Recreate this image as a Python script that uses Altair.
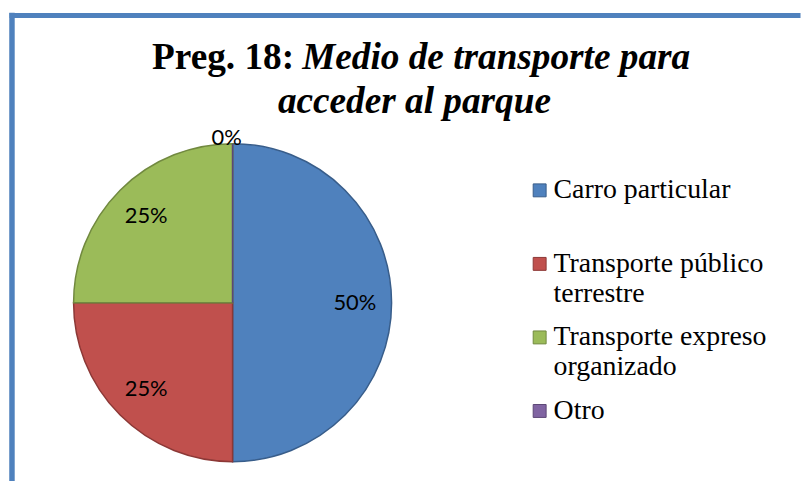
import altair as alt
import pandas as pd

# ---- data ----
categorias = ["Carro particular", "Transporte público terrestre",
              "Transporte expreso organizado", "Otro"]
valores = [50, 25, 25, 0]
colores = ["#4F81BD", "#C0504D", "#9BBB59", "#8064A2"]
bordes = ["#385D8A", "#8C3836", "#71893F", "#5C4776"]
titulo_1a = "Preg. 18:"
titulo_1b = "Medio de transporte para"
titulo_2 = "acceder al parque"

df = pd.DataFrame({"cat": categorias, "v": valores, "idx": list(range(len(valores)))})
one = alt.Data(values=[{"k": 1}])

CX, CY = 225, 295   # pie centre inside the view
R = 160

LABEL_EXPR = ("length(split(datum.label,' ')) > 2 ? "
              "[join(slice(split(datum.label,' '),0,2),' '), "
              "join(slice(split(datum.label,' '),2),' ')] : [datum.label, '']")

def legend():
    return alt.Legend(
        title=None, orient="none", legendX=520, legendY=168,
        symbolType="square", symbolSize=169, symbolStrokeWidth=1,
        labelFont="Liberation Serif", labelFontSize=28,
        labelColor="#000000", labelLimit=400, labelOffset=0,
        labelBaseline="middle", rowPadding=16, padding=0,
        labelExpr=LABEL_EXPR,
    )

color = alt.Color("cat:N", scale=alt.Scale(domain=categorias, range=colores), legend=legend())
stroke = alt.Stroke("cat:N", scale=alt.Scale(domain=categorias, range=bordes), legend=legend())

base = alt.Chart(df).encode(
    theta=alt.Theta("v:Q", stack=True),
    order=alt.Order("idx:Q"),
)

pie = base.mark_arc(outerRadius=R, strokeWidth=1.5).encode(
    color=color, stroke=stroke,
    x=alt.value(CX), y=alt.value(CY),
)

lab_font = dict(font="Lato", fontSize=22, color="#000000",
                align="center", baseline="middle")

labels = base.transform_filter("datum.v > 0").transform_calculate(
    txt="datum.v + '%'"
).mark_text(**lab_font).encode(
    text="txt:N", detail="cat:N", radius=alt.value(123),
    x=alt.value(CX), y=alt.value(CY),
)

label0 = base.transform_filter("datum.v == 0").transform_calculate(
    txt="datum.v + '%'"
).mark_text(dx=-6, **lab_font).encode(
    text="txt:N", detail="cat:N", radius=alt.value(166),
    x=alt.value(CX), y=alt.value(CY),
)

tfont = dict(font="Liberation Serif", fontSize=37.5, fontWeight="bold",
             color="#000000", baseline="alphabetic")
t1a = alt.Chart(one).mark_text(text=titulo_1a, align="left", **tfont).encode(
    x=alt.value(144), y=alt.value(60))
t1b = alt.Chart(one).mark_text(text=titulo_1b, align="left", fontStyle="italic", **tfont).encode(
    x=alt.value(295), y=alt.value(60))
t2 = alt.Chart(one).mark_text(text=titulo_2, align="center", fontStyle="italic", **tfont).encode(
    x=alt.value(408), y=alt.value(104))

frame_left = alt.Chart(one).mark_rule(color="#4F81BD", strokeWidth=5.5, strokeCap="square").encode(
    x=alt.value(3), y=alt.value(6), y2=alt.value(473))
frame_top = alt.Chart(one).mark_rule(color="#4F81BD", strokeWidth=5, strokeCap="square").encode(
    x=alt.value(3), x2=alt.value(794), y=alt.value(6))

chart = alt.layer(frame_left, frame_top, pie, labels, label0, t1a, t1b, t2).properties(
    width=794, height=473, padding=0, background="#ffffff",
).configure_view(stroke=None).configure_legend(
    labelFont="Liberation Serif", labelFontSize=28, labelColor="#000000",
)

chart.save("out.html", embed_options={"renderer": "svg", "actions": False})
